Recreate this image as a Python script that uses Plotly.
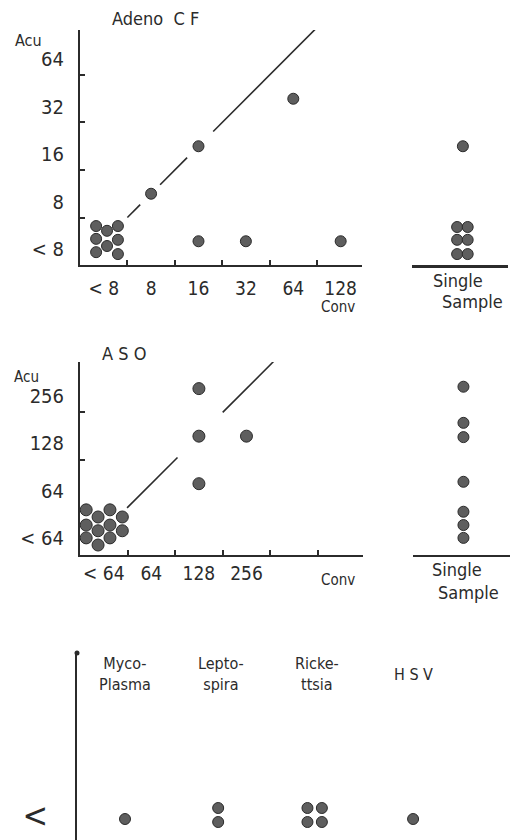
import plotly.graph_objects as go

W, H = 512, 840
INK = "#2b2b2b"
DOT = "#5e5e5e"
FONT = "DejaVu Sans Condensed, Liberation Sans Narrow, Arial Narrow, sans-serif"

# ---------------- data ----------------
# Panel 1: Adeno CF (category index; small offsets separate stacked dots)
adeno_conv_labels = ["< 8", "8", "16", "32", "64", "128"]
adeno_acu_labels = ["< 8", "8", "16", "32", "64"]
adeno_conv = [-0.16, 0.07, 0.30, -0.16, 0.07, 0.30, -0.16, 0.30, 1, 2, 4, 2, 3, 5]
adeno_acu = [0.32, 0.22, 0.32, 0.05, -0.10, 0.03, -0.23, -0.27, 1, 2, 3, 0, 0, 0]
adeno_single_x = [0.47, 0.58, 0.47, 0.58, 0.47, 0.58, 0.53]
adeno_single_acu = [0.30, 0.30, 0.03, 0.03, -0.27, -0.27, 2.0]
adeno_line_x = [0.5, 0.77, None, 1.19, 1.76, None, 2.31, 4.63]
adeno_line_y = [0.5, 0.77, None, 1.19, 1.76, None, 2.31, 4.63]

# Panel 2: ASO
aso_conv_labels = ["< 64", "64", "128", "256"]
aso_acu_labels = ["< 64", "64", "128", "256"]
aso_conv = [-0.37, 0.13, -0.12, 0.39, -0.37, 0.13, -0.12, 0.39, -0.37, 0.13, -0.12, 2, 2, 3, 2]
aso_acu = [0.45, 0.45, 0.30, 0.30, 0.13, 0.13, 0.01, 0.01, -0.14, -0.14, -0.29, 3, 2, 2, 1]
aso_single_x = [0.52, 0.52, 0.52, 0.52, 0.52, 0.52, 0.52]
aso_single_acu = [3.04, 2.28, 1.98, 1.04, 0.41, 0.13, -0.14]
aso_line_x = [0.49, 1.55, None, 2.5, 3.57]
aso_line_y = [0.49, 1.55, None, 2.5, 3.57]

# Panel 3: other agents (all below threshold)
agent_labels = ["Myco-<br>Plasma", "Lepto-<br>spira", "Ricke-<br>ttsia", "H S V"]
agent_x = [0, 0.97, 0.97, 1.9, 2.05, 1.9, 2.05, 3.0]
agent_y = [-0.08, 0.14, -0.14, 0.14, 0.14, -0.14, -0.14, -0.08]


def fx(p):
    return p / W


def fy(p):
    return 1 - p / H


fig = go.Figure()
marker = dict(size=11, color=DOT, line=dict(color=INK, width=1))

fig.add_trace(go.Scatter(x=adeno_line_x, y=adeno_line_y, mode="lines",
                         line=dict(color=INK, width=1.6), xaxis="x", yaxis="y"))
fig.add_trace(go.Scatter(x=adeno_conv, y=adeno_acu, mode="markers", marker=marker,
                         xaxis="x", yaxis="y", cliponaxis=False))
fig.add_trace(go.Scatter(x=adeno_single_x, y=adeno_single_acu, mode="markers", marker=marker,
                         xaxis="x2", yaxis="y", cliponaxis=False))

fig.add_trace(go.Scatter(x=aso_line_x, y=aso_line_y, mode="lines",
                         line=dict(color=INK, width=1.6), xaxis="x3", yaxis="y3"))
fig.add_trace(go.Scatter(x=aso_conv, y=aso_acu, mode="markers",
                         marker=dict(size=12, color=DOT, line=dict(color=INK, width=1)),
                         xaxis="x3", yaxis="y3", cliponaxis=False))
fig.add_trace(go.Scatter(x=aso_single_x, y=aso_single_acu, mode="markers", marker=marker,
                         xaxis="x4", yaxis="y3", cliponaxis=False))

fig.add_trace(go.Scatter(x=agent_x, y=agent_y, mode="markers", marker=marker,
                         xaxis="x5", yaxis="y5", cliponaxis=False))
fig.add_trace(go.Scatter(x=[-0.5], y=[3.24], mode="markers",
                         marker=dict(size=5, color=INK), xaxis="x5", yaxis="y5", cliponaxis=False))

tickfont = dict(family=FONT, size=19, color=INK)
ytickfont = dict(family=FONT, size=20, color=INK)


def minor(vals):
    return dict(tickmode="array", tickvals=vals, ticks="inside", ticklen=5,
                tickwidth=1.5, tickcolor=INK, showgrid=False)


common = dict(showgrid=False, zeroline=False, fixedrange=True)

fig.update_layout(
    width=W, height=H, margin=dict(l=0, r=0, t=0, b=0),
    paper_bgcolor="white", plot_bgcolor="rgba(0,0,0,0)", showlegend=False,
    xaxis=dict(domain=[fx(80), fx(362)], range=[-0.5, 5.45], anchor="y",
               tickmode="array", tickvals=list(range(len(adeno_conv_labels))),
               ticktext=adeno_conv_labels, ticks="", showline=True, linewidth=2,
               linecolor=INK, tickfont=tickfont, ticklabelstandoff=5,
               minor=minor([0.5, 1.5, 2.5, 3.5, 4.5]), **common),
    yaxis=dict(domain=[fy(265), fy(30)], range=[-0.5, 4.447], anchor="x",
               tickmode="array", tickvals=[i - 0.17 for i in range(len(adeno_acu_labels))],
               ticktext=adeno_acu_labels, ticks="", showline=True, linewidth=2,
               linecolor=INK, tickfont=ytickfont, ticklabelstandoff=10,
               minor=minor([0.5, 1.5, 2.5, 3.5]), **common),
    xaxis2=dict(domain=[fx(412), fx(508)], range=[0, 1], anchor="y",
                showticklabels=False, ticks="", showline=True, linewidth=3,
                linecolor=INK, **common),
    xaxis3=dict(domain=[fx(80), fx(363)], range=[-0.5, 5.45], anchor="y3",
                tickmode="array", tickvals=list(range(len(aso_conv_labels))),
                ticktext=aso_conv_labels, ticks="", showline=True, linewidth=2,
                linecolor=INK, tickfont=tickfont, ticklabelstandoff=0,
                minor=minor([0.5, 1.5, 2.5, 3.5, 4.5]), **common),
    yaxis3=dict(domain=[fy(555), fy(362)], range=[-0.5, 3.56], anchor="x3",
                tickmode="array", tickvals=[i - 0.15 for i in range(len(aso_acu_labels))],
                ticktext=aso_acu_labels, ticks="", showline=True, linewidth=2,
                linecolor=INK, tickfont=ytickfont, ticklabelstandoff=10,
                minor=minor([1.5, 2.5]), **common),
    xaxis4=dict(domain=[fx(413), fx(510)], range=[0, 1], anchor="y3",
                showticklabels=False, ticks="", showline=True, linewidth=2,
                linecolor=INK, **common),
    xaxis5=dict(domain=[fx(77), 1], range=[-0.5, 4.03], anchor="y5", visible=False, **common),
    yaxis5=dict(domain=[0, fy(653)], range=[-0.5, 3.24], anchor="x5",
                tickmode="array", tickvals=[0], ticktext=["<"], ticks="",
                showline=True, linewidth=2, linecolor=INK,
                tickfont=dict(family=FONT, size=34, color=INK), ticklabelstandoff=20,
                **common),
)


def ann(text, x, y, size=17, xanchor="center"):
    fig.add_annotation(text=text, x=fx(x), y=fy(y), xref="paper", yref="paper",
                       showarrow=False, xanchor=xanchor, yanchor="middle",
                       font=dict(family=FONT, size=size, color=INK))


ann("Adeno  C F", 110, 18, 18, "left")
ann("Acu", 13, 40, 16, "left")
ann("Conv", 338, 307, 15)
ann("Single", 458, 281, 18)
ann("Sample", 472, 301, 18)

ann("A S O", 100, 353, 18, "left")
ann("Acu", 12, 377, 15, "left")
ann("Conv", 338, 580, 15)
ann("Single", 457, 569, 18)
ann("Sample", 468, 592, 18)

for i, lab in enumerate(agent_labels):
    fig.add_annotation(text=lab, x=i, y=2.82, xref="x5", yref="y5", showarrow=False,
                       xanchor="center", yanchor="middle", align="center",
                       font=dict(family=FONT, size=16, color=INK))

fig.write_html("out.html", config={"displayModeBar": False},
               post_script="document.body.style.margin='0';")
